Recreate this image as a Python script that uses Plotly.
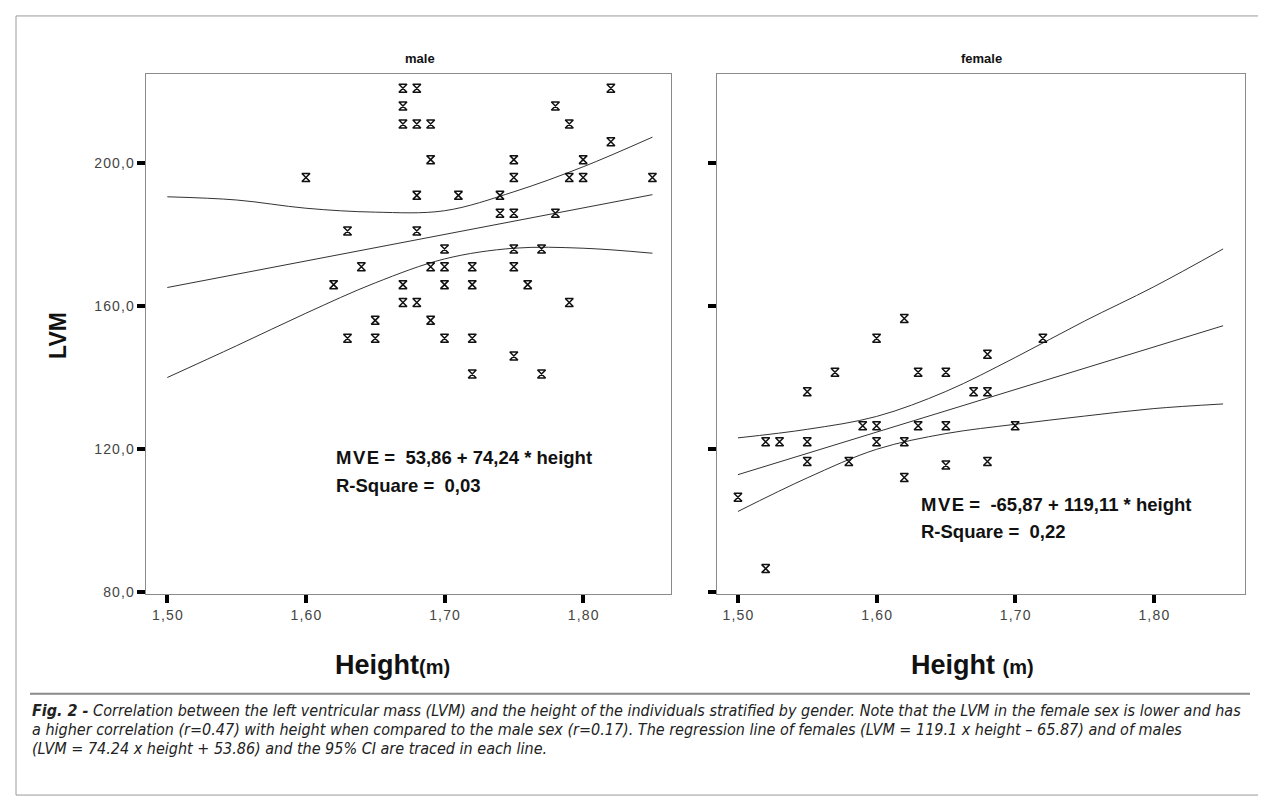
import plotly.graph_objects as go

# ---------------- data ----------------
x_ticks = [1.5, 1.6, 1.7, 1.8]
x_ticktext = ["1,50", "1,60", "1,70", "1,80"]
y_ticks = [80, 120, 160, 200]
y_ticktext = ["80,0", "120,0", "160,0", "200,0"]

# male scatter (height m, LVM)
male_h = [1.67, 1.68, 1.82,
          1.67, 1.78,
          1.67, 1.68, 1.69, 1.79,
          1.82,
          1.69, 1.75, 1.80,
          1.60, 1.75, 1.79, 1.80, 1.85,
          1.68, 1.71, 1.74,
          1.74, 1.75, 1.78,
          1.63, 1.68,
          1.70, 1.75, 1.77,
          1.64, 1.69, 1.70, 1.72, 1.75,
          1.62, 1.67, 1.70, 1.72, 1.76,
          1.67, 1.68, 1.79,
          1.65, 1.69,
          1.63, 1.65, 1.70, 1.72,
          1.75,
          1.72, 1.77]
male_lvm = [221, 221, 221,
            216, 216,
            211, 211, 211, 211,
            206,
            201, 201, 201,
            196, 196, 196, 196, 196,
            191, 191, 191,
            186, 186, 186,
            181, 181,
            176, 176, 176,
            171, 171, 171, 171, 171,
            166, 166, 166, 166, 166,
            161, 161, 161,
            156, 156,
            151, 151, 151, 151,
            146,
            141, 141]

# female scatter
female_h = [1.62, 1.60, 1.72, 1.68, 1.57, 1.63, 1.65, 1.55, 1.67, 1.68,
            1.59, 1.60, 1.63, 1.65, 1.70,
            1.52, 1.53, 1.55, 1.60, 1.62,
            1.55, 1.58, 1.68, 1.65, 1.62, 1.50, 1.52]
female_lvm = [156.5, 151, 151, 146.5, 141.5, 141.5, 141.5, 136, 136, 136,
              126.5, 126.5, 126.5, 126.5, 126.5,
              122, 122, 122, 122, 122,
              116.5, 116.5, 116.5, 115.5, 112, 106.5, 86.5]

# regression lines and 95% CI bands
band_h = [1.50, 1.55, 1.60, 1.65, 1.70, 1.75, 1.80, 1.85]
male_fit_h = [1.50, 1.85]
male_fit = [165.2, 191.2]
male_upper = [190.6, 189.7, 187.4, 186.3, 186.7, 192.0, 199.0, 207.3]
male_lower = [140.0, 148.9, 158.0, 166.5, 173.2, 176.2, 176.2, 174.8]

female_fit_h = [1.50, 1.85]
female_fit = [112.8, 154.5]
female_upper = [123.1, 125.5, 129.1, 136.1, 145.6, 155.8, 165.4, 176.0]
female_lower = [102.5, 111.9, 119.9, 124.3, 126.9, 129.2, 131.3, 132.6]

# ---------------- figure ----------------
W, H = 1266, 801
LINE_C = "#333333"
FRAME_C = "#8a8a8a"
HS = "\u200a"  # hair space used for the wide-set lettering

fig = go.Figure()

def add_panel(xa, ya, hx, hy, fx, fy, bx, up, lo):
    fig.add_trace(go.Scatter(x=bx, y=up, mode="lines", xaxis=xa, yaxis=ya,
                             line=dict(color=LINE_C, width=1, shape="spline"),
                             hoverinfo="skip"))
    fig.add_trace(go.Scatter(x=bx, y=lo, mode="lines", xaxis=xa, yaxis=ya,
                             line=dict(color=LINE_C, width=1, shape="spline"),
                             hoverinfo="skip"))
    fig.add_trace(go.Scatter(x=fx, y=fy, mode="lines", xaxis=xa, yaxis=ya,
                             line=dict(color=LINE_C, width=1)))
    fig.add_trace(go.Scatter(x=hx, y=hy, mode="markers", xaxis=xa, yaxis=ya,
                             marker=dict(symbol="hourglass-open", size=8,
                                         color="#111111",
                                         line=dict(color="#111111", width=1.5))))

add_panel("x", "y", male_h, male_lvm, male_fit_h, male_fit,
          band_h, male_upper, male_lower)
add_panel("x2", "y2", female_h, female_lvm, female_fit_h, female_fit,
          band_h, female_upper, female_lower)

def px_x(p):
    return p / W

def px_y(p):
    return 1 - p / H

def spaced(labels):
    return [HS.join(list(s)) for s in labels]

tick_font = dict(family="Liberation Sans, Arial", size=14, color="#444444")
axis_common = dict(showline=True, linecolor=FRAME_C, linewidth=1, mirror=True,
                   ticks="outside", ticklen=8, tickwidth=4, tickcolor="black",
                   showgrid=False, zeroline=False, tickfont=tick_font)

fig.update_layout(
    width=W, height=H, margin=dict(l=0, r=0, t=0, b=0),
    paper_bgcolor="white", plot_bgcolor="white", showlegend=False,
    xaxis=dict(domain=[px_x(137.7), px_x(663)], range=[1.4844, 1.8634],
               tickvals=x_ticks, ticktext=spaced(x_ticktext), anchor="y", **axis_common),
    yaxis=dict(domain=[px_y(590), px_y(66.7)], range=[79.3, 224.9],
               tickvals=y_ticks, ticktext=spaced(y_ticktext), anchor="x", **axis_common),
    xaxis2=dict(domain=[px_x(709.3), px_x(1237)], range=[1.4851, 1.8658],
                tickvals=x_ticks, ticktext=spaced(x_ticktext), anchor="y2", **axis_common),
    yaxis2=dict(domain=[px_y(590), px_y(66.7)], range=[79.3, 224.9],
                tickvals=y_ticks, ticktext=spaced(y_ticktext), anchor="x2",
                showticklabels=False, **axis_common),
)

def ann(text, x, y, size, xanchor="center", yanchor="middle", angle=0,
        color="#111111", family="Liberation Sans, Arial"):
    fig.add_annotation(text=text, x=px_x(x), y=px_y(y), xref="paper", yref="paper",
                       showarrow=False, xanchor=xanchor, yanchor=yanchor,
                       textangle=angle, font=dict(family=family, size=size, color=color))

# panel titles
ann("<b>male</b>", 412, 51, 13)
ann("<b>female</b>", 973, 51, 13)

# axis titles
ann("<b>LVM</b>", 50, 330, 23, angle=-90)
ann("<b>Height</b><b><span style='font-size:20px'>(m)</span></b>", 384, 661, 27)
ann("<b>Height </b><b><span style='font-size:20px'>(m)</span></b>", 964, 661, 27)

# equations
ann("<b>M" + HS + "V" + HS + "E =  53,86 + 74,24 * height</b>", 326, 452, 18.5, xanchor="left")
ann("<b>R-Square =  0,03</b>", 326, 480, 18.5, xanchor="left")
ann("<b>M" + HS + "V" + HS + "E =  -65,87 + 119,11 * height</b>", 911, 500, 18.5, xanchor="left")
ann("<b>R-Square =  0,22</b>", 911, 527, 18.5, xanchor="left")

# caption
cap_family = "Liberation Sans Narrow, DejaVu Sans Condensed, Liberation Sans"
cap_lines = [
    "<b><i>Fig. 2 -</i></b><i> Correlation between the left ventricular mass (LVM) and the height of the individuals stratified by gender. Note that the LVM in the female sex is lower and has</i>",
    "<i>a higher correlation (r=0.47) with height when compared to the male sex (r=0.17). The regression line of females (LVM = 119.1 x height \u2013 65.87) and of males</i>",
    "<i>(LVM = 74.24 x height + 53.86) and the 95% CI are traced in each line.</i>",
]
for i, t in enumerate(cap_lines):
    ann(t, 22, 707 + 19 * i, 16, xanchor="left", color="#222222", family=cap_family)

# frame and separator
fig.add_shape(type="rect", xref="paper", yref="paper",
              x0=px_x(8), x1=px_x(1258), y0=px_y(792), y1=px_y(8),
              line=dict(color="#9a9a9a", width=1))
fig.add_shape(type="line", xref="paper", yref="paper",
              x0=px_x(22), x1=px_x(1242), y0=px_y(690), y1=px_y(690),
              line=dict(color="#8a8a8a", width=2))

fig.write_html("out.html")
